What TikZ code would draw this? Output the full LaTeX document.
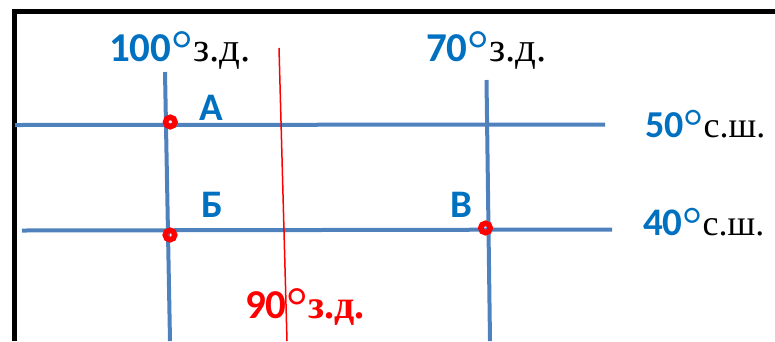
\documentclass[tikz,border=0pt]{standalone}
\usepackage{fontspec}
\setmainfont{Liberation Serif}
\newfontfamily\carl{Carlito}
\newfontfamily\tms{Liberation Serif}
\definecolor{gridblue}{HTML}{4F81BD}
\definecolor{txtblue}{HTML}{0070C0}
\definecolor{mred}{HTML}{FF0000}
\newcommand{\numf}[2]{{\carl\bfseries\fontsize{#1}{#1}\selectfont #2}}
\newcommand{\degf}[2]{\raisebox{#2}{\tms\fontsize{#1}{#1}\selectfont °}}
\newcommand{\srf}[2]{{\tms\fontsize{#1}{#1}\selectfont #2}}
\begin{document}
\begin{tikzpicture}[x=1pt,y=-1pt,
  gridline/.style={draw=gridblue,line width=4pt},
  redline/.style={draw=mred,line width=1.5pt},
  ptdot/.style={circle,draw=mred,line width=5.5pt,minimum size=9.5pt,inner sep=0pt,fill=none},
  lbl/.style={anchor=base west,inner sep=0pt,text=txtblue},
  ptlbl/.style={anchor=base west,inner sep=0pt,text=txtblue,font=\carl\bfseries\fontsize{39}{39}\selectfont}]
\useasboundingbox (0,0) rectangle (775,341);
% border
\draw[line width=5.5pt,black] (14.5,341) -- (14.5,11.7) -- (775,11.7);
% endpoints
\coordinate (p50w) at (15,125);
\coordinate (p50e) at (605,124.5);
\coordinate (p40w) at (22,230.5);
\coordinate (p40e) at (612,229.5);
\coordinate (m100n) at (165,72);
\coordinate (m100s) at (170,341);
\coordinate (m70n) at (486.5,80);
\coordinate (m70s) at (490,341);
\coordinate (m90n) at (279,48);
\coordinate (m90s) at (287,341);
% grid
\draw[gridline] (p50w) -- (p50e);
\draw[gridline] (p40w) -- (p40e);
\draw[gridline] (m100n) -- (m100s);
\draw[gridline] (m70n) -- (m70s);
\draw[redline] (m90n) -- (m90s);
% points
\node[ptdot] (A) at (170.3,122) {};
\node[ptdot] (B) at (170,235) {};
\node[ptdot] (V) at (485.5,228) {};
\node[ptlbl] (lA) at (199,120) {А};
\node[ptlbl] (lB) at (201,217) {Б};
\node[ptlbl] (lV) at (450,217) {В};
% labels
\node[lbl] (l100) at (109,61) {\numf{41}{100}\degf{54}{-6pt}{\color{black}\srf{41}{з.д.}}};
\node[lbl] (l70) at (426,61) {\numf{41}{70}\degf{54}{-6pt}{\color{black}\srf{41}{з.д.}}};
\node[lbl] (l50) at (645,137) {\numf{38}{50}\degf{50}{-6pt}{\color{black}\srf{36}{с.ш.}}};
\node[lbl] (l40) at (643,235) {\numf{39}{40}\degf{50}{-6pt}{\color{black}\srf{36}{с.ш.}}};
\node[lbl,text=mred] (l90) at (245,318) {\numf{41}{90}\degf{54}{-6pt}{\tms\bfseries\fontsize{40}{40}\selectfont з.д.}};
\end{tikzpicture}
\end{document}
